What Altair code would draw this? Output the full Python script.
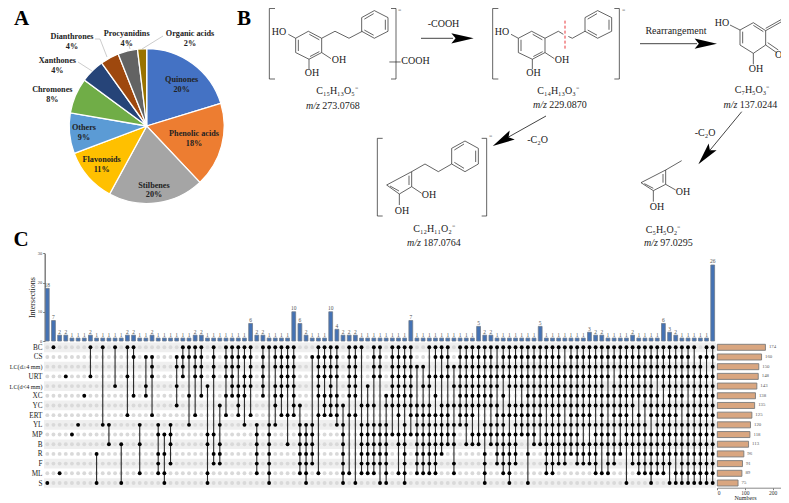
import altair as alt
import pandas as pd

SERIF = "Liberation Serif"

# ---- panel A
pie_names = ["Quinones", "Phenolic acids", "Stilbenes", "Flavonoids", "Others", "Chromones",
             "Xanthones", "Dianthrones", "Procyanidins", "Organic acids"]
pie_pct = ["20%", "18%", "20%", "11%", "9%", "8%", "4%", "4%", "4%", "2%"]
pie_vals = [20.3, 17.7, 20.0, 11.3, 8.5, 7.4, 5.0, 3.9, 4.1, 1.9]
pie_cols = ["#4472C4", "#ED7D31", "#A5A5A5", "#FFC000", "#5B9BD5", "#70AD47",
            "#264478", "#9E480E", "#636363", "#997300"]
pie_lx = [181.7, 194, 154, 101.7, 84, 52.3, 57.3, 72, 126.7, 190]
pie_ly = [80.3, 134, 185.7, 160.3, 128.3, 90.3, 61.3, 37.3, 34, 34]
leaders = [(78, 62, 92, 71), (95, 39, 100, 39), (100, 39, 107, 57), (128, 42, 130, 49), (163, 36, 142, 49)]

# ---- panel C
sets = ["BC", "CS", "LC(d\u22654 mm)", "URT", "LC(d<4 mm)", "XC", "YC", "ERT", "YL", "MP", "B", "R", "F", "ML", "S"]
set_sizes = [174, 160, 150, 148, 143, 138, 135, 125, 120, 118, 113, 96, 91, 89, 75]
inter_sizes = [18, 7, 2, 2, 1, 1, 1, 2, 1, 1, 1, 1, 1, 2, 2, 1, 1, 2, 1, 1, 1, 1, 1, 1, 2, 2,
               1, 1, 1, 1, 1, 1, 1, 6, 2, 2, 1, 1, 1, 1, 10, 6, 2, 1, 1, 1, 10, 4, 2, 2, 2,
               1, 1, 1, 1, 1, 1, 1, 1, 7, 1, 1, 1, 1, 1, 1, 1, 1, 1, 1, 5, 2, 2,
               1, 1, 1, 1, 1, 1, 1, 5, 1, 1, 1, 1, 1, 1, 1, 3, 2, 2, 1, 1, 1, 1, 2,
               1, 1, 1, 1, 6, 3, 2, 1, 1, 1, 1, 1, 26]
# each column: the rows (hex-like index into sets) that are members of the intersection
members = ["e", "0", "d", "3", "9", "8", "5", "03", "be", "08", "8a", "04", "ae", "037", "015", "8ad",
           "145", "1237", "89bcd", "9bde", "89ac", "1246", "0123", "0158", "01237", "01235",
           "49ade", "01239bc", "68abc", "012357", "012345", "0124567", "013458", "012347", "89abcd",
           "012345", "089abcde", "0124568", "0123457", "012347a", "01234567", "689abcd", "89abcde",
           "189abc", "0123457d", "0123567", "01234567", "01235678", "689abcde", "0123457d", "0123457e",
           "0689abcd", "4689abcd", "0123689abcd", "012389abce", "5689abcde", "01234569", "012345679ad",
           "012345689abcde", "012345679", "26789abcd", "246789abcd", "0346789abcd", "0135789abcd",
           "0136789ab", "01236789a", "24689acd", "012345678", "012345678a", "012345679a", "01234569a",
           "012345689bcde", "012345689a", "02346789abc", "01235789abcd", "01234679abcde",
           "012346789abc", "012346789", "0123456789be", "0123456789a", "012345678a", "012345689abcd",
           "0123456789abcd", "0123456789abc", "02345689abc", "0123456789ab", "0123456789abc",
           "012345678abc", "012345678abc", "012345689abcd", "0123456789ad", "01235689abcd", "012456789abc",
           "012345678ab", "0123456789ae", "012345689abc", "012345789abcd", "012345689abcd", "012345679abcde",
           "012356789abcd", "012346789abcd", "0123456789abce", "0123456789abde", "012345689abcde",
           "012346789abcde", "023456789abcde", "123456789abcde", "013456789abcde", "0123456789abcde"]

# ---- panel B: line drawing, each bond is a pair of points (zoomed crop units)
def ring(p):
    return [(*p[i], *p[(i + 1) % len(p)]) for i in range(len(p))]

def fit_top(y):
    # the page margin hides the top 8 px, so the two upper structures are squeezed just below it
    return y if y >= 79 else 8.5 + (y - 1.7) * (79 - 8.5) / (79 - 1.7)

b_left = [(135, 5, 118, 5), (118, 5, 118, 237), (118, 237, 135, 237),
          (483, 5, 498, 5), (498, 5, 498, 237), (483, 237, 498, 237), (478, 181, 512, 181)]
b_left += ring([(235, 80), (275, 103), (275, 150), (237, 172), (197, 150), (197, 103)])
b_left += [(205, 108, 205, 145), (238, 90, 268, 108), (240, 163, 268, 147),
           (175, 90, 197, 103), (275, 150, 303, 170), (237, 172, 237, 205),
           (275, 103, 315, 80), (315, 80, 357, 103), (357, 103, 397, 80)]
b_left += ring([(433, 12), (474, 35), (474, 80), (433, 103), (395, 80), (395, 35)])
b_left += [(403, 40, 431, 22), (466, 42, 466, 75), (403, 76, 431, 93)]
# mol 5
b_left += [(458, 415, 442, 415), (442, 415, 442, 648), (442, 648, 458, 648),
           (755, 415, 770, 415), (770, 415, 770, 648), (755, 648, 770, 648),
           (545, 515, 585, 492), (585, 492, 625, 515), (625, 515, 665, 492)]
b_left += ring([(705, 423), (745, 445), (745, 492), (705, 515), (665, 492), (665, 445)])
b_left += [(673, 450, 702, 432), (737, 452, 737, 486), (673, 487, 702, 505)]
b_left += ring([(545, 515), (470, 555), (508, 582), (545, 560)])
b_left += [(537, 527, 537, 555), (480, 558, 507, 573), (545, 560, 575, 580), (508, 582, 508, 615)]
b_left += [(805, 5, 788, 5), (788, 5, 788, 237), (788, 237, 805, 237)]

b_mid = [(343, 5, 358, 5), (358, 5, 358, 237), (343, 237, 358, 237)]
b_mid += ring([(95, 80), (135, 103), (135, 150), (97, 172), (55, 150), (55, 103)])
b_mid += [(63, 108, 63, 145), (98, 90, 127, 108), (100, 163, 128, 147), (33, 90, 55, 103),
          (135, 150, 163, 170), (97, 172, 97, 205), (135, 103, 175, 80), (175, 80, 190, 90),
          (205, 97, 217, 103), (217, 103, 255, 80)]
b_mid += ring([(293, 12), (335, 35), (335, 80), (293, 103), (255, 80), (255, 35)])
b_mid += [(263, 40, 291, 22), (327, 42, 327, 75), (263, 76, 291, 93)]
# mol 3 (moved a few px left: the svg ends at x = 781)
SH = 15
b_mol3 = [(705, 75, 735, 90), (735, 90, 775, 68), (775, 68, 812, 92), (812, 92, 812, 135),
          (812, 135, 775, 160), (775, 160, 735, 135), (735, 135, 735, 90), (743, 95, 743, 130),
          (775, 76, 805, 95), (812, 92, 858, 66), (812, 85, 858, 59), (812, 135, 845, 158),
          (818, 128, 850, 150), (775, 160, 775, 193)]
# mol 4
b_right = [(545, 482, 497, 510)]
b_right += ring([(497, 510), (423, 548), (460, 572), (497, 553)])
b_right += [(489, 522, 489, 548), (433, 551, 460, 565), (497, 553, 527, 570), (460, 572, 460, 605)]

bonds = [(230 + a / 3, fit_top(b / 3), 230 + c / 3, fit_top(d / 3)) for a, b, c, d in b_left] + \
        [(500 + a / 3, fit_top(b / 3), 500 + c / 3, fit_top(d / 3)) for a, b, c, d in b_mid] + \
        [(500 + (a - SH) / 3, b / 3, 500 + (c - SH) / 3, d / 3) for a, b, c, d in b_mol3] + \
        [(500 + a / 3, b / 3, 500 + c / 3, d / 3) for a, b, c, d in b_right]
cut_line = [(565, fit_top(15), 565, fit_top(47))]
shafts = [(421, 38.3, 453, 38.3), (640, 43.7, 697, 43.7), (546, 116, 505, 139), (741.7, 111.7, 706, 155)]
heads_x = [462.5, 705.8, 502.5, 705.5]
heads_y = [38.3, 43.7, 140.6, 155.5]
heads_a = [0, 0, 150.5, 129.5]

chem_txt = [("HO", 279, fit_top(27.7)), ("OH", 339, fit_top(58)), ("OH", 312, 73), ("COOH", 415.5, 61),
            ("\u207b", 399, 13.2),
            ("C\u2081\u2085H\u2081\u2083O\u2085\u207b", 337, 90.5), ("-COOH", 443.5, 23.5),
            ("HO", 502, fit_top(27.7)), ("OH", 562, fit_top(58)), ("OH", 533.5, 73), ("\u207b", 623, 13.2),
            ("C\u2081\u2084H\u2081\u2083O\u2083\u207b", 558, 90.5), ("Rearrangement", 676, 31),
            ("HO", 722, 23.3), ("O", 778.5, 54.5), ("OH", 756, 69), ("C\u2087H\u2085O\u2083\u207b", 752, 90),
            ("-C\u2082O", 705, 132.5), ("-C\u2082O", 537.5, 140),
            ("OH", 683, 191.7), ("OH", 657, 207), ("C\u2085H\u2085O\u2082\u207b", 663, 230),
            ("OH", 429, 195), ("OH", 402, 210.7), ("\u207b", 490, 138.5),
            ("C\u2081\u2082H\u2081\u2081O\u2082\u207b", 434, 228.5)]
mz_labels = ["m/z"] * 5
mz_x = [320, 547, 737.5, 421, 658]
mz_y = [105.5, 105, 105, 243, 243]
mz_vals = ["273.0768", "229.0870", "137.0244", "187.0764", "97.0295"]
panels = [("A", 21.7, 18.6), ("B", 244, 18.6), ("C", 21, 240)]

W, H = 773, 495

px = alt.Scale(domain=[0, 789], range=[-8, 781])
py = alt.Scale(domain=[0, 503], range=[-8, 495])
X = lambda f: alt.X(f, type="quantitative", scale=px, axis=None)
Y = lambda f: alt.Y(f, type="quantitative", scale=py, axis=None)
colQ = alt.Scale(domain=[0, 108], range=[39.3, 704.7])
colO = alt.Scale(type="point", padding=0, domain=list(range(109)), range=[39.3, 704.7])
rowQ = alt.Scale(domain=[0, 14], range=[339.3, 475])
rowN = alt.Scale(type="point", padding=0, domain=sets, range=[339.3, 475])
topY = alt.Scale(domain=[0, 30], range=[333, 245.3])
numX = alt.Scale(domain=[0, 252], range=[709.3, 779])


def segs(rows, color, width, dash=None):
    kw = {"color": color, "strokeWidth": width}
    if dash:
        kw["strokeDash"] = dash
    df = pd.DataFrame(rows, columns=["x", "y", "x2", "y2"])
    return alt.Chart(df).mark_rule(**kw).encode(X("x"), alt.X2("x2"), Y("y"), alt.Y2("y2"))


def texts(df, size, weight="normal", style="normal", align="center", color="black"):
    return alt.Chart(df).mark_text(font=SERIF, fontSize=size, fontWeight=weight, fontStyle=style,
                                   align=align, baseline="middle", color=color).encode(
        X("x"), Y("y"), text="t:N")


# pie
pie_df = pd.DataFrame({"n": pie_names, "v": pie_vals, "c": pie_cols, "i": range(10)})
pie = alt.Chart(pie_df).mark_arc(outerRadius=77.5, stroke="white", strokeWidth=1.3).encode(
    x=alt.value(138.7), y=alt.value(118),
    theta=alt.Theta("v:Q", stack=True, scale=alt.Scale(domain=[0, sum(pie_vals)], range=[0, 6.28318])),
    order=alt.Order("i:Q"), color=alt.Color("c:N", scale=None))
pie_t1 = texts(pd.DataFrame({"t": pie_names, "x": pie_lx, "y": pie_ly}), 8.2, weight="bold", color="#222")
pie_t2 = texts(pd.DataFrame({"t": pie_pct, "x": pie_lx, "y": [v + 9.7 for v in pie_ly]}), 8.2, weight="bold", color="#222")

# panel letters
letters = texts(pd.DataFrame(panels, columns=["t", "x", "y"]), 21, weight="bold")

# chemistry
chem = texts(pd.DataFrame(chem_txt, columns=["t", "x", "y"]), 10, color="#222")
mz_i = texts(pd.DataFrame({"t": mz_labels, "x": mz_x, "y": mz_y}), 10, style="italic", align="right", color="#222")
mz_n = texts(pd.DataFrame({"t": mz_vals, "x": [v + 2.3 for v in mz_x], "y": mz_y}), 10, align="left", color="#222")
head_path = "M-1,-0.46 L1,0 L-1,0.46 L-0.62,0 Z"
heads = alt.Chart(pd.DataFrame({"x": heads_x, "y": heads_y, "a": heads_a})).mark_point(
    shape=head_path, filled=True, opacity=1, color="black", size=500).encode(
    X("x"), Y("y"), angle=alt.Angle("a:Q", scale=None))

# upset
bars_df = pd.DataFrame({"col": range(109), "n": inter_sizes})
top_bars = alt.Chart(bars_df).mark_bar(width=3.8, color="#4472B4", stroke="#6E7B8B", strokeWidth=0.8).encode(
    x=alt.X("col:O", scale=colO, axis=None),
    y=alt.Y("n:Q", scale=topY, axis=alt.Axis(orient="left", offset=-36.7, values=[0, 10, 20, 30], title="Intersections",
            titleFont=SERIF, titleFontSize=8, titleFontWeight="normal", titlePadding=1, titleColor="#222",
            labelFont=SERIF, labelFontSize=4.5, labelColor="#444", labelPadding=1, tickSize=2, tickColor="#777",
            domainColor="#777", domainWidth=1.4, grid=False)))
top_lbl = alt.Chart(bars_df).mark_text(font=SERIF, fontSize=5.5, color="#555", dy=-3.5).encode(
    x=alt.X("col:O", scale=colO, axis=None), y=alt.Y("n:Q", scale=topY, axis=None), text="n:Q")

sets_df = pd.DataFrame({"s": sets, "r": range(15), "n": set_sizes, "x": 44, "x2": 716})
band_df = sets_df[sets_df.r % 2 == 0]
bands = alt.Chart(band_df).mark_rule(color="#EFEFEF", strokeWidth=9.7).encode(
    X("x"), alt.X2("x2"), y=alt.Y("r:Q", scale=rowQ, axis=None))
label_axis = alt.Chart(sets_df).mark_point(opacity=0).encode(
    X("x"),
    y=alt.Y("s:N", scale=rowN, axis=alt.Axis(orient="left", offset=-34, title=None, domain=False, ticks=False,
            labelFont=SERIF, labelColor="#222", labelPadding=0, labelOverlap=False,
            labelFontSize={"expr": "indexof(datum.label, 'LC') == 0 ? 6.2 : 7.2"})))

cells = pd.DataFrame([(c, r) for c in range(109) for r in range(15)], columns=["col", "row"])
hex_row = "0123456789abcde"
on = pd.DataFrame([(c, hex_row.index(ch)) for c, m in enumerate(members) for ch in m], columns=["col", "row"])
span = on.groupby("col")["row"].agg(["min", "max"]).reset_index()
span = span[span["min"] < span["max"]]
gray = alt.Chart(cells).mark_circle(color="#D9D9D9", size=15, opacity=1).encode(
    x=alt.X("col:Q", scale=colQ, axis=None), y=alt.Y("row:Q", scale=rowQ, axis=None))
links = alt.Chart(span).mark_rule(color="#2b2b2b", strokeWidth=1.1).encode(
    x=alt.X("col:Q", scale=colQ, axis=None), y=alt.Y("min:Q", scale=rowQ, axis=None), y2="max:Q")
black = alt.Chart(on).mark_circle(color="black", size=15, opacity=1).encode(
    x=alt.X("col:Q", scale=colQ, axis=None), y=alt.Y("row:Q", scale=rowQ, axis=None))

side = alt.Chart(sets_df).mark_bar(height=6, color="#D9A680", stroke="#7A7A7A", strokeWidth=0.9).encode(
    x=alt.X("n:Q", scale=numX, axis=alt.Axis(orient="bottom", offset=-(H - 479.7), values=[0, 100, 200], title="Numbers",
            titleFont=SERIF, titleFontSize=6, titleFontWeight="normal", titleColor="#222",
            titleX=737, titleY=7, labelFont=SERIF, labelFontSize=5.5, labelColor="#333", labelPadding=1, tickSize=2,
            tickColor="#777", domainColor="#888", grid=False)),
    y=alt.Y("s:N", scale=rowN, axis=None))
side_lbl = alt.Chart(sets_df).mark_text(font=SERIF, fontSize=4.8, color="#555", align="left", dx=3.5).encode(
    x=alt.X("n:Q", scale=numX, axis=None), y=alt.Y("s:N", scale=rowN, axis=None), text="n:Q")

chart = alt.layer(
    bands, gray, links, black, top_bars, top_lbl, side, side_lbl, label_axis,
    pie, segs(leaders, "#BFBFBF", 0.8), pie_t1, pie_t2, letters,
    segs(bonds, "#222", 0.7), segs(shafts, "#444", 1.0), segs(cut_line, "#E8393C", 1.0, [3, 2]),
    heads, chem, mz_i, mz_n,
).resolve_scale(x="independent", y="independent", theta="independent", color="independent").properties(
    width=W, height=H, padding=0, autosize=alt.AutoSizeParams(type="none"), background="white"
).configure_view(stroke=None).configure_axis(grid=False)

chart.save("out.html", embed_options={"renderer": "svg", "actions": False})
